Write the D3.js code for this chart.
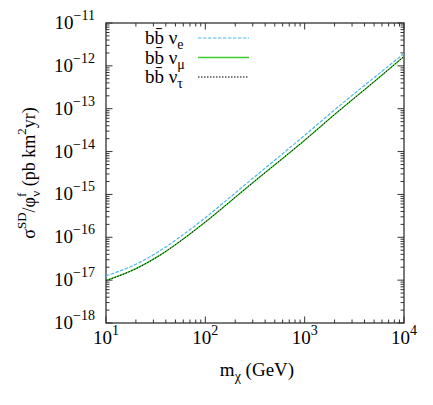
<!DOCTYPE html>
<html>
<head>
<meta charset="utf-8">
<script src="https://cdn.jsdelivr.net/npm/d3@7"></script>
<style>
  body { margin: 0; background: #fff; }
  text { font-family: "Liberation Serif", "DejaVu Serif", serif; fill: #000; }
</style>
</head>
<body>
<div id="chart"></div>
<script>
// masses (GeV) and sigma/phi values
var masses = [10, 20, 35, 55, 100, 150, 250, 500, 1000, 2000, 5000, 10000];
var nuE   = [1.26e-17, 2.35e-17, 4.86e-17, 1.0e-16, 2.86e-16, 6.2e-16, 1.67e-15, 6.3e-15, 2.39e-14, 9.4e-14, 5.3e-13, 1.94e-12];
var nuMu  = [9.8e-18, 1.85e-17, 3.83e-17, 7.9e-17, 2.27e-16, 4.9e-16, 1.32e-15, 4.9e-15, 1.84e-14, 7.3e-14, 4.27e-13, 1.65e-12];
var nuTau = [9.8e-18, 1.85e-17, 3.83e-17, 7.9e-17, 2.27e-16, 4.9e-16, 1.32e-15, 4.9e-15, 1.84e-14, 7.3e-14, 4.27e-13, 1.65e-12];

var xTicks = [10, 100, 1000, 10000];
var xTickExp = ["1", "2", "3", "4"];
var yTicks = [1e-18, 1e-17, 1e-16, 1e-15, 1e-14, 1e-13, 1e-12, 1e-11];
var yTickExp = ["\u221218", "\u221217", "\u221216", "\u221215", "\u221214", "\u221213", "\u221212", "\u221211"];

var legendNames = ["e", "\u03bc", "\u03c4"];

var W = 433, H = 405;
var margin = {left: 106, top: 23, right: 29, bottom: 82};
var pw = W - margin.left - margin.right;
var ph = H - margin.top - margin.bottom;

var svg = d3.select("#chart").append("svg")
  .attr("width", W).attr("height", H);

var g = svg.append("g").attr("transform", "translate(" + margin.left + "," + margin.top + ")");

var x = d3.scaleLog().domain([10, 10000]).range([0, pw]);
var y = d3.scaleLog().domain([1e-18, 1e-11]).range([ph, 0]);

var axisColor = "#333";

// minor + major log ticks, drawn on all four sides
function logTicks(scale) {
  var d = scale.domain(), out = [];
  for (var e = Math.round(Math.log10(d[0])); e <= Math.round(Math.log10(d[1])); e++) {
    for (var k = 1; k <= 9; k++) {
      var v = k * Math.pow(10, e);
      if (v >= d[0] * 0.999 && v <= d[1] * 1.001) out.push({v: v, major: k === 1});
    }
  }
  return out;
}

var ticks = g.append("g").attr("stroke", axisColor).attr("stroke-width", 1);

logTicks(x).forEach(function (t) {
  var len = t.major ? 6.5 : 3.5;
  var px = x(t.v);
  ticks.append("line").attr("x1", px).attr("x2", px).attr("y1", ph).attr("y2", ph - len);
  ticks.append("line").attr("x1", px).attr("x2", px).attr("y1", 0).attr("y2", len);
});

logTicks(y).forEach(function (t) {
  var len = t.major ? 6.5 : 3.5;
  var py = y(t.v);
  ticks.append("line").attr("x1", 0).attr("x2", len).attr("y1", py).attr("y2", py);
  ticks.append("line").attr("x1", pw).attr("x2", pw - len).attr("y1", py).attr("y2", py);
});

g.append("rect")
  .attr("width", pw).attr("height", ph)
  .attr("fill", "none").attr("stroke", axisColor).attr("stroke-width", 1.3);

// tick labels  10^n
xTicks.forEach(function (v, i) {
  var t = g.append("text")
    .attr("x", x(v)).attr("y", ph + 21)
    .attr("text-anchor", "middle")
    .style("font-size", "19px");
  t.append("tspan").text("10");
  t.append("tspan").attr("dy", -9).style("font-size", "14px").text(xTickExp[i]);
});

yTicks.forEach(function (v, i) {
  var t = g.append("text")
    .attr("x", -11).attr("y", y(v) + 6)
    .attr("text-anchor", "end")
    .style("font-size", "19px");
  t.append("tspan").text("10");
  t.append("tspan").attr("dy", -9).style("font-size", "14px").text(yTickExp[i]);
});

// axis titles
var xl = svg.append("text")
  .attr("x", margin.left + pw / 2 + 2).attr("y", 376)
  .attr("text-anchor", "middle")
  .style("font-size", "19px");
xl.append("tspan").text("m");
xl.append("tspan").attr("dy", 5).style("font-size", "14px").text("\u03c7");
xl.append("tspan").attr("dy", -5).text(" (GeV)");

var yl = svg.append("text")
  .attr("transform", "translate(35," + (margin.top + ph / 2) + ") rotate(-90)")
  .attr("text-anchor", "middle")
  .style("font-size", "18px");
yl.append("tspan").text("\u03c3");
yl.append("tspan").attr("dy", -9).style("font-size", "13px").text("SD");
yl.append("tspan").attr("dy", 9).text("/\u03c6");
yl.append("tspan").attr("dy", -9).style("font-size", "13px").text("f");
yl.append("tspan").attr("dx", -4).attr("dy", 14).style("font-size", "13px").text("\u03bd");
yl.append("tspan").attr("dy", -5).text(" (pb km");
yl.append("tspan").attr("dy", -9).style("font-size", "13px").text("2");
yl.append("tspan").attr("dy", 9).text("yr)");

// curves
var series = [
  {vals: nuE, color: "#4fb8e6", dash: "3.5,1.5", w: 1.2},
  {vals: nuMu, color: "#3fcc2e", dash: null, w: 1.3},
  {vals: nuTau, color: "#000", dash: "1.5,1.5", w: 1}
];

var line = d3.line()
  .x(function (d) { return x(d[0]); })
  .y(function (d) { return y(d[1]); })
  .curve(d3.curveMonotoneX);

series.forEach(function (s) {
  g.append("path")
    .datum(masses.map(function (m, i) { return [m, s.vals[i]]; }))
    .attr("d", line)
    .attr("fill", "none")
    .attr("stroke", s.color)
    .attr("stroke-width", s.w)
    .attr("stroke-dasharray", s.dash);
});

// key
series.forEach(function (s, i) {
  var ly = 38 + i * 19.5;
  var t = svg.append("text")
    .attr("x", 145).attr("y", ly + 6)
    .style("font-size", "19px");
  t.append("tspan").text("bb\u0304 \u03bd");
  t.append("tspan").attr("dy", 5).style("font-size", "14px").text(legendNames[i]);
  svg.append("line")
    .attr("x1", 198).attr("x2", 249).attr("y1", ly).attr("y2", ly)
    .attr("stroke", s.color).attr("stroke-width", s.w)
    .attr("stroke-dasharray", s.dash);
});
</script>
</body>
</html>
